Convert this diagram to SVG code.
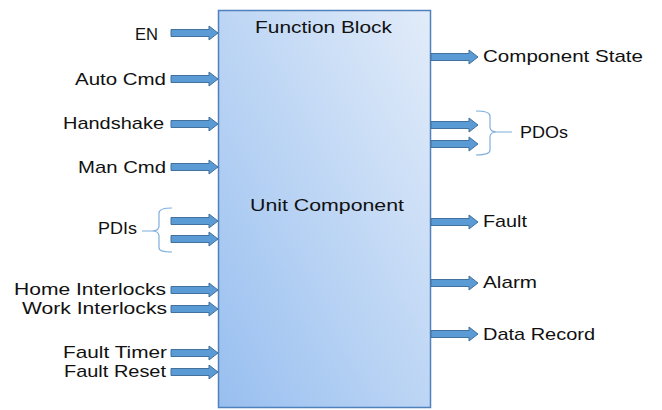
<svg xmlns="http://www.w3.org/2000/svg" width="662" height="410" viewBox="0 0 662 410">
<style>
.t{font-family:"Liberation Sans",Arial,sans-serif;font-size:17px;fill:#111}
.arr{fill:#5B9BD5;stroke:#41719C;stroke-width:1}
.brace{fill:none;stroke:#7EAEDC;stroke-width:1.2}
</style>
<defs>
<linearGradient id="bg" x1="0" y1="1" x2="1" y2="0">
<stop offset="0" stop-color="#98BFF0"/>
<stop offset="1" stop-color="#E2ECF9"/>
</linearGradient>
<path id="arL" d="M0,-3.5 H38 V-7 L47,0 L38,7 V3.5 H0 Z"/>
</defs>
<rect width="662" height="410" fill="#fff"/>
<g id="block">
<rect x="218.5" y="10.5" width="212" height="397" fill="url(#bg)" stroke="#4F81BD" stroke-width="1.5"/>
<text class="t" x="255" y="33" textLength="137" lengthAdjust="spacingAndGlyphs">Function Block</text>
<text class="t" x="250" y="211" textLength="154" lengthAdjust="spacingAndGlyphs">Unit Component</text>
</g>
<g id="inputs" class="t" text-anchor="end">
<text id="in-en" x="158" y="40" textLength="23" lengthAdjust="spacingAndGlyphs">EN</text>
<text id="in-auto" x="166" y="85" textLength="91" lengthAdjust="spacingAndGlyphs">Auto Cmd</text>
<text id="in-hs" x="164" y="129" textLength="101" lengthAdjust="spacingAndGlyphs">Handshake</text>
<text id="in-man" x="166" y="173" textLength="88" lengthAdjust="spacingAndGlyphs">Man Cmd</text>
<text id="in-pdi" x="137" y="234" textLength="39" lengthAdjust="spacingAndGlyphs">PDIs</text>
<text id="in-home" x="166" y="295" textLength="152" lengthAdjust="spacingAndGlyphs">Home Interlocks</text>
<text id="in-work" x="167" y="314" textLength="145" lengthAdjust="spacingAndGlyphs">Work Interlocks</text>
<text id="in-ft" x="167" y="358" textLength="104" lengthAdjust="spacingAndGlyphs">Fault Timer</text>
<text id="in-fr" x="166" y="377" textLength="102" lengthAdjust="spacingAndGlyphs">Fault Reset</text>
</g>
<g id="outputs" class="t">
<text id="out-cs" x="483" y="62" textLength="160" lengthAdjust="spacingAndGlyphs">Component State</text>
<text id="out-pdo" x="520" y="138" textLength="48" lengthAdjust="spacingAndGlyphs">PDOs</text>
<text id="out-fault" x="483" y="227" textLength="44" lengthAdjust="spacingAndGlyphs">Fault</text>
<text id="out-alarm" x="483" y="288" textLength="54" lengthAdjust="spacingAndGlyphs">Alarm</text>
<text id="out-dr" x="483" y="340" textLength="112" lengthAdjust="spacingAndGlyphs">Data Record</text>
</g>
<g id="connectors">
<g class="arr">
<use href="#arL" x="171" y="33"/>
<use href="#arL" x="171" y="79"/>
<use href="#arL" x="171" y="124"/>
<use href="#arL" x="171" y="167"/>
<use href="#arL" x="171" y="221"/>
<use href="#arL" x="171" y="239"/>
<use href="#arL" x="171" y="290"/>
<use href="#arL" x="171" y="309"/>
<use href="#arL" x="171" y="353"/>
<use href="#arL" x="171" y="372"/>
<use href="#arL" x="431" y="57"/>
<use href="#arL" x="431" y="125"/>
<use href="#arL" x="431" y="144"/>
<use href="#arL" x="431" y="222"/>
<use href="#arL" x="431" y="283"/>
<use href="#arL" x="431" y="334"/>
</g>
<path class="brace" d="M172,208 Q159,208 159,213 V226 Q159,231 152,231 H142 M152,231 Q159,231 159,236 V248 Q159,252 172,252"/>
<path class="brace" d="M476,111 Q490,111 490,116 V127 Q490,132 497,132 H512 M497,132 Q490,132 490,137 V150 Q490,155 476,155"/>
</g>
</svg>
